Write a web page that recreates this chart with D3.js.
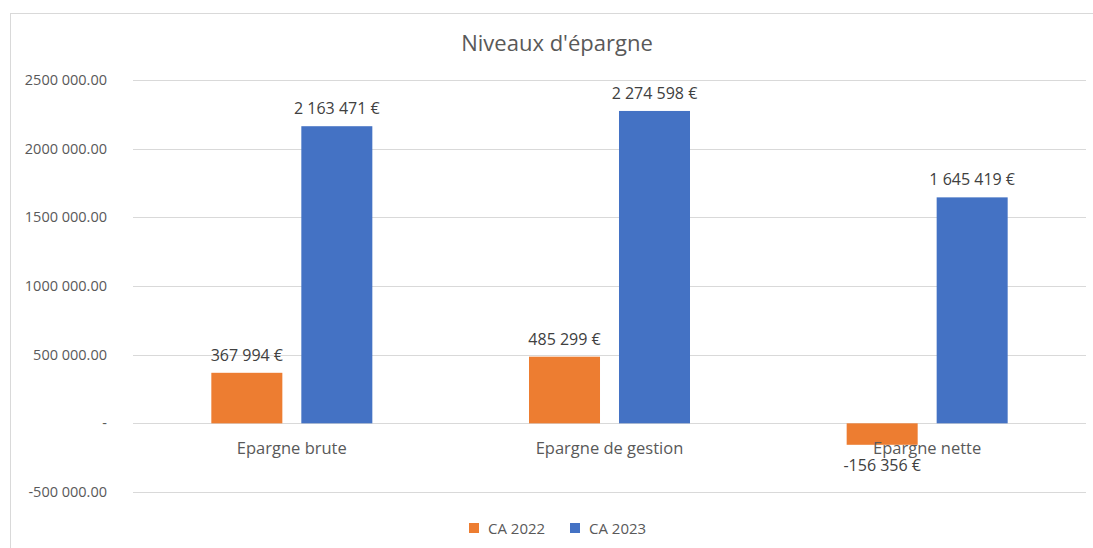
<!DOCTYPE html>
<html lang="fr">
<head>
  <meta charset="UTF-8">
  <title>Niveaux d'épargne</title>
  <script src="https://d3js.org/d3.v7.min.js"></script>
  <style>
    * { margin: 0; padding: 0; box-sizing: border-box; }
    body { background: #fff; font-family: 'Open Sans', 'Lato', sans-serif; }
    svg { display: block; }
  </style>
</head>
<body>
  <div id="chart"></div>
  <script>
    // Data
    const categories = ["Epargne brute", "Epargne de gestion", "Epargne nette"];
    const series = ["CA 2022", "CA 2023"];
    const ca2022 = [367994, 485299, -156356];
    const ca2023 = [2163471, 2274598, 1645419];
    const tickValues = [-500000, 0, 500000, 1000000, 1500000, 2000000, 2500000];
    const tickLabels = ["-500 000.00", "-", "500 000.00", "1000 000.00", "1500 000.00", "2000 000.00", "2500 000.00"];
    const colors = ["#ED7D31", "#4472C4"];

    const width = 1093, height = 548;
    const font = "'Open Sans', Lato, sans-serif";

    const svg = d3.select("#chart").append("svg")
      .attr("width", width)
      .attr("height", height)
      .attr("font-family", font);

    // chart frame
    svg.append("rect")
      .attr("x", 10.5).attr("y", 13.5)
      .attr("width", 1090).attr("height", 560)
      .attr("fill", "none")
      .attr("stroke", "#d9d9d9");

    const y = d3.scaleLinear()
      .domain([-500000, 2500000])
      .range([492, 80]);

    const x0 = d3.scaleBand()
      .domain(categories)
      .range([133, 1086]);

    const x1 = d3.scaleBand()
      .domain(series)
      .range([0, 161])
      .paddingInner(0.211);

    // gridlines
    svg.append("g")
      .selectAll("line")
      .data(tickValues)
      .join("line")
      .attr("x1", 133).attr("x2", 1086)
      .attr("y1", d => Math.round(y(d)) + 0.5)
      .attr("y2", d => Math.round(y(d)) + 0.5)
      .attr("stroke", "#d9d9d9")
      .attr("stroke-width", 1);

    // y axis labels
    const yAxis = svg.append("g")
      .attr("transform", "translate(107,0)")
      .call(d3.axisLeft(y).tickValues(tickValues).tickSize(0).tickPadding(0)
        .tickFormat((d, i) => tickLabels[i]));
    yAxis.select(".domain").remove();
    yAxis.selectAll("text")
      .attr("font-family", font)
      .attr("font-size", 14.5)
      .attr("fill", "#595959");

    const fr = d3.formatLocale({decimal: ",", thousands: " ", grouping: [3], currency: ["", " €"]});
    const fmt = fr.format(",.0f");

    const rows = categories.map((c, i) => ({cat: c, values: [ca2022[i], ca2023[i]]}));
    const groupOffset = (x0.bandwidth() - 161) / 2;

    const groups = svg.append("g")
      .selectAll("g")
      .data(rows)
      .join("g")
      .attr("transform", d => `translate(${x0(d.cat) + groupOffset},0)`);

    groups.selectAll("rect")
      .data(d => d.values.map((v, i) => ({s: series[i], v, i})))
      .join("rect")
      .attr("x", d => x1(d.s))
      .attr("width", x1.bandwidth())
      .attr("y", d => y(Math.max(0, d.v)))
      .attr("height", d => Math.abs(y(d.v) - y(0)))
      .attr("fill", d => colors[d.i]);

    // category labels
    svg.append("g")
      .selectAll("text")
      .data(categories)
      .join("text")
      .attr("x", d => x0(d) + x0.bandwidth() / 2)
      .attr("y", 453.5)
      .attr("text-anchor", "middle")
      .attr("font-size", 16.5)
      .attr("fill", "#595959")
      .text(d => d);

    // data labels
    groups.selectAll("text")
      .data(d => d.values.map((v, i) => ({s: series[i], v, i})))
      .join("text")
      .attr("x", d => x1(d.s) + x1.bandwidth() / 2)
      .attr("y", d => d.v >= 0 ? y(d.v) - 12 : y(d.v) + 26)
      .attr("text-anchor", "middle")
      .attr("font-size", 16)
      .attr("fill", "#404040")
      .text(d => (d.v < 0 ? "-" : "") + fmt(Math.abs(d.v)) + " €");

    // title
    svg.append("text")
      .attr("x", 557)
      .attr("y", 51)
      .attr("text-anchor", "middle")
      .attr("font-size", 22)
      .attr("fill", "#595959")
      .text("Niveaux d'épargne");

    // legend
    const legendX = [469, 570];
    const legend = svg.append("g")
      .selectAll("g")
      .data(series)
      .join("g")
      .attr("transform", (d, i) => `translate(${legendX[i]},523)`);
    legend.append("rect")
      .attr("width", 10).attr("height", 10)
      .attr("fill", (d, i) => colors[i]);
    legend.append("text")
      .attr("x", 19).attr("y", 10.5)
      .attr("font-size", 15)
      .attr("fill", "#595959")
      .text(d => d);
  </script>
</body>
</html>
